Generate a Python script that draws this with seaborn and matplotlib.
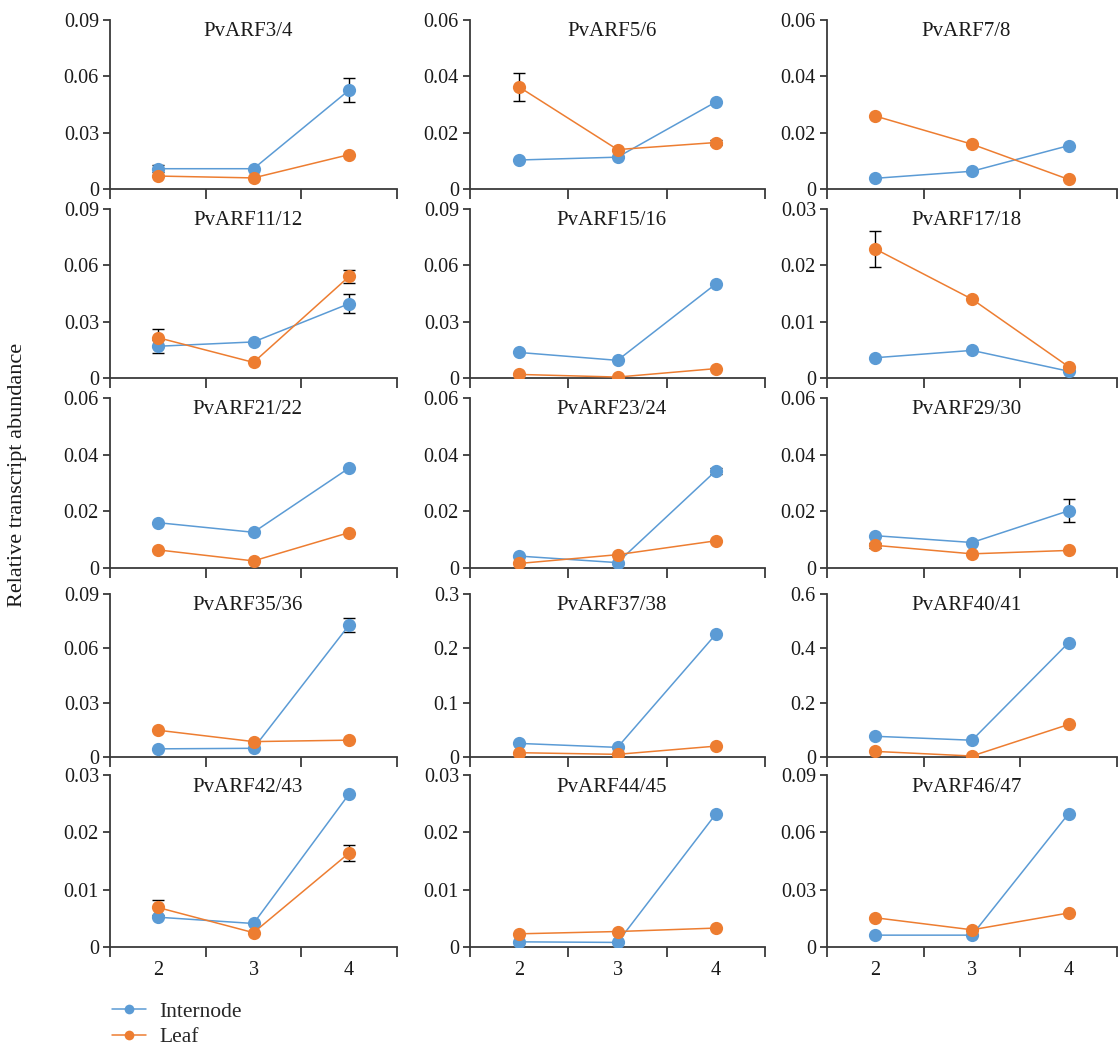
import matplotlib
matplotlib.use("Agg")
import matplotlib.pyplot as plt
import seaborn as sns
import pandas as pd
from matplotlib.lines import Line2D
from matplotlib.ticker import FixedLocator, FixedFormatter

sns.set_theme(style="white")
plt.rcParams['font.family'] = ['Liberation Serif', 'DejaVu Serif']

# ---- data ----
stages = [2, 3, 4]
genes = ["PvARF3/4", "PvARF5/6", "PvARF7/8",
         "PvARF11/12", "PvARF15/16", "PvARF17/18",
         "PvARF21/22", "PvARF23/24", "PvARF29/30",
         "PvARF35/36", "PvARF37/38", "PvARF40/41",
         "PvARF42/43", "PvARF44/45", "PvARF46/47"]
y_max = [0.09, 0.06, 0.06,
         0.09, 0.09, 0.03,
         0.06, 0.06, 0.06,
         0.09, 0.3, 0.6,
         0.03, 0.03, 0.09]
y_tick_labels = {0.09: ["0", "0.03", "0.06", "0.09"],
                 0.06: ["0", "0.02", "0.04", "0.06"],
                 0.03: ["0", "0.01", "0.02", "0.03"],
                 0.3: ["0", "0.1", "0.2", "0.3"],
                 0.6: ["0", "0.2", "0.4", "0.6"]}
internode = [[0.0108, 0.0108, 0.0527],
             [0.0103, 0.0113, 0.0309],
             [0.0038, 0.0063, 0.0154],
             [0.0169, 0.0192, 0.0396],
             [0.0136, 0.0094, 0.0501],
             [0.0036, 0.0049, 0.0012],
             [0.0160, 0.0126, 0.0353],
             [0.0042, 0.0019, 0.0343],
             [0.0114, 0.0090, 0.0202],
             [0.0045, 0.0048, 0.0729],
             [0.025, 0.0177, 0.226],
             [0.0762, 0.0617, 0.421],
             [0.0052, 0.0041, 0.0267],
             [0.0009, 0.0008, 0.0232],
             [0.0062, 0.0062, 0.0698]]
leaf = [[0.0069, 0.0059, 0.0183],
        [0.0362, 0.0140, 0.0165],
        [0.0259, 0.0159, 0.0034],
        [0.0215, 0.0083, 0.0541],
        [0.0019, 0.0005, 0.0050],
        [0.0229, 0.0140, 0.0020],
        [0.0064, 0.0025, 0.0125],
        [0.0016, 0.0047, 0.0096],
        [0.0080, 0.0050, 0.0062],
        [0.0148, 0.0085, 0.0093],
        [0.0079, 0.0049, 0.0200],
        [0.0206, 0.0036, 0.1198],
        [0.0069, 0.0025, 0.0164],
        [0.0023, 0.0027, 0.0033],
        [0.0153, 0.0090, 0.0178]]
internode_err = [[0.002, 0.0, 0.0063],
                 [0.0, 0.0, 0.0],
                 [0.0, 0.0, 0.0],
                 [0.0036, 0.0, 0.005],
                 [0.0, 0.0, 0.0],
                 [0.0, 0.0, 0.0],
                 [0.0, 0.0, 0.0],
                 [0.0, 0.0, 0.001],
                 [0.0, 0.0, 0.004],
                 [0.0, 0.0, 0.0037],
                 [0.0, 0.0, 0.0],
                 [0.0, 0.0, 0.0],
                 [0.0, 0.0, 0.0],
                 [0.0, 0.0, 0.0],
                 [0.0, 0.0, 0.0]]
leaf_err = [[0.0, 0.0, 0.0],
            [0.005, 0.0, 0.001],
            [0.0, 0.0, 0.0],
            [0.0048, 0.0, 0.0036],
            [0.0, 0.0, 0.0],
            [0.0032, 0.0, 0.0],
            [0.0, 0.0, 0.0],
            [0.0, 0.0, 0.0],
            [0.001, 0.0, 0.0],
            [0.0, 0.0, 0.0],
            [0.0, 0.0, 0.0],
            [0.0, 0.0, 0.0],
            [0.0013, 0.0, 0.0014],
            [0.0, 0.0, 0.0],
            [0.0, 0.0, 0.0]]
series_names = ["Internode", "Leaf"]
colors = {"Internode": "#5B9BD5", "Leaf": "#ED7D31"}

# ---- layout (pixels) ----
W, H = 1118, 1047
col_lr = [(110, 397), (470, 765), (827, 1117)]
row_tb = [(20, 189), (209, 378), (398, 568), (594, 757), (775, 947)]

fig = plt.figure(figsize=(W / 100, H / 100), dpi=100)
axis_color = "#3a3a3a"
text_color = "#1a1a1a"

for i, gene in enumerate(genes):
    r, c = divmod(i, 3)
    l, rt = col_lr[c]
    t, b = row_tb[r]
    ax = fig.add_axes([l / W, 1 - b / H, (rt - l) / W, (b - t) / H])
    df = pd.DataFrame({
        "stage": stages * 2,
        "value": internode[i] + leaf[i],
        "tissue": ["Internode"] * 3 + ["Leaf"] * 3,
    })
    sns.lineplot(data=df, x="stage", y="value", hue="tissue", palette=colors,
                 marker="o", markersize=9.5, markeredgewidth=0, linewidth=1.1,
                 ax=ax, legend=False, zorder=3)
    for name, vals, errs in (("Internode", internode[i], internode_err[i]),
                             ("Leaf", leaf[i], leaf_err[i])):
        xs = [s for s, e in zip(stages, errs) if e > 0]
        ys = [v for v, e in zip(vals, errs) if e > 0]
        es = [e for e in errs if e > 0]
        if xs:
            ax.errorbar(xs, ys, yerr=es, fmt="none", ecolor="black",
                        elinewidth=1, capsize=4, capthick=1, zorder=2)
    ym = y_max[i]
    ax.set_xlim(1.5, 4.5)
    ax.set_ylim(0, ym)
    ax.yaxis.set_major_locator(FixedLocator([0, ym / 3, 2 * ym / 3, ym]))
    ax.yaxis.set_major_formatter(FixedFormatter(y_tick_labels[ym]))
    ax.xaxis.set_major_locator(FixedLocator([1.5, 2.5, 3.5, 4.5]))
    ax.xaxis.set_major_formatter(FixedFormatter(["", "", "", ""]))
    ax.xaxis.set_minor_locator(FixedLocator(stages))
    if r == 4:
        ax.xaxis.set_minor_formatter(FixedFormatter([str(s) for s in stages]))
    else:
        ax.xaxis.set_minor_formatter(FixedFormatter(["", "", ""]))
    ax.tick_params(axis="x", which="major", direction="out", length=7,
                   width=1.3, color=axis_color, bottom=True)
    ax.tick_params(axis="x", which="minor", length=0, labelsize=14.5,
                   pad=10, labelcolor=text_color, bottom=True)
    ax.tick_params(axis="y", which="major", direction="out", length=5,
                   width=1.3, color=axis_color, labelsize=14.5,
                   labelcolor=text_color, left=True, pad=3)
    for s in ("top", "right"):
        ax.spines[s].set_visible(False)
    for s in ("left", "bottom"):
        ax.spines[s].set_color(axis_color)
        ax.spines[s].set_linewidth(1.3)
    ax.set_xlabel("")
    ax.set_ylabel("")
    ax.patch.set_alpha(0)
    ax.text(0.48, 0.93, gene, transform=ax.transAxes, ha="center",
            va="center", fontsize=15, color=text_color)

fig.text(18 / W, 1 - 475 / H, "Relative transcript abundance", rotation=90,
         ha="center", va="center", fontsize=16, color=text_color)

handles = [Line2D([0], [0], color=colors[n], marker="o", markersize=7,
                  markeredgewidth=0, linewidth=1.1) for n in series_names]
fig.legend(handles, series_names, loc="upper left",
           bbox_to_anchor=(103 / W, 1 - 993 / H), frameon=False,
           fontsize=15.5, handlelength=1.6, handletextpad=0.6,
           labelspacing=0.25, borderaxespad=0)

fig.savefig("out.png", dpi=100)
